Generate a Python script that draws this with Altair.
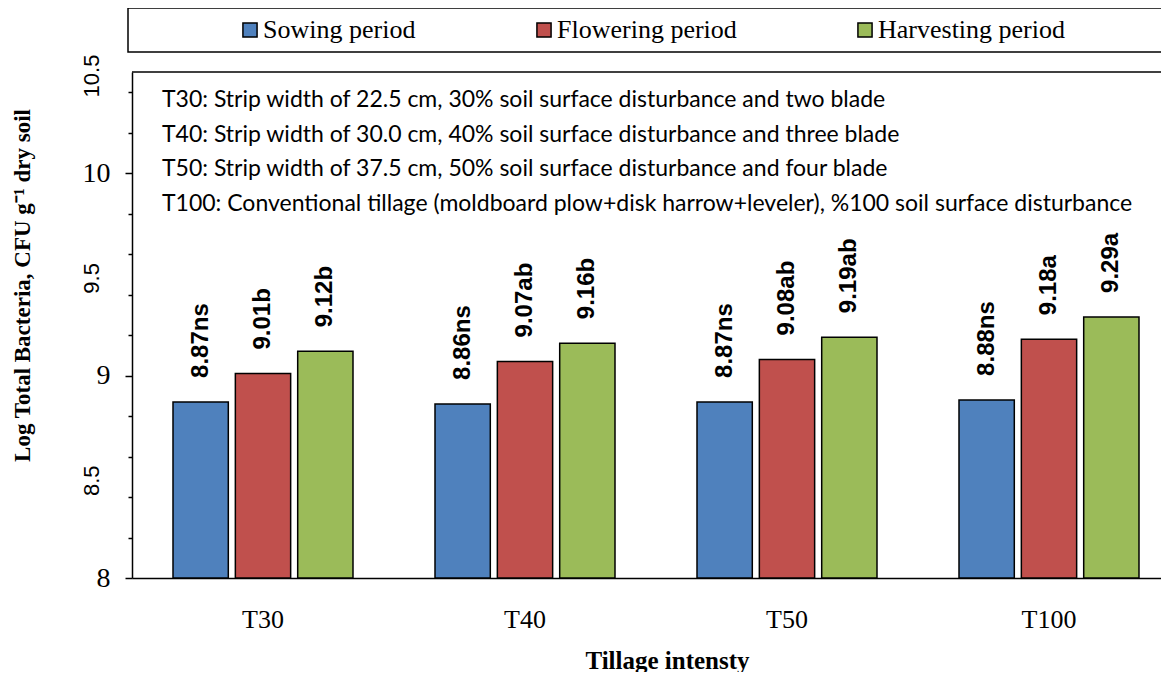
import altair as alt
import pandas as pd

categories = ["T30", "T40", "T50", "T100"]
periods = ["Sowing period", "Flowering period", "Harvesting period"]
sowing = [8.87, 8.86, 8.87, 8.88]
flowering = [9.01, 9.07, 9.08, 9.18]
harvesting = [9.12, 9.16, 9.19, 9.29]
sowing_lbl = ["8.87ns", "8.86ns", "8.87ns", "8.88ns"]
flowering_lbl = ["9.01b", "9.07ab", "9.08ab", "9.18a"]
harvesting_lbl = ["9.12b", "9.16b", "9.19ab", "9.29a"]
colors = ["#4F81BD", "#C0504D", "#9BBB59"]
y_ticks = [8.0, 8.1, 8.2, 8.3, 8.4, 8.5, 8.6, 8.7, 8.8, 8.9, 9.0, 9.1, 9.2, 9.3, 9.4,
           9.5, 9.6, 9.7, 9.8, 9.9, 10.0, 10.1, 10.2, 10.3, 10.4, 10.5]
y_min = 8
half_ticks = [8.5, 9.5, 10.5]
notes = [
    "T30: Strip width of 22.5  cm, 30% soil surface disturbance and two blade",
    "T40: Strip width of 30.0  cm, 40% soil surface disturbance and three blade",
    "T50: Strip width of 37.5  cm, 50% soil surface disturbance and four blade",
    "T100:  Conventional tillage (moldboard plow+disk harrow+leveler), %100 soil surface disturbance",
]

rows = []
for i, c in enumerate(categories):
    for p, vals, lbls in zip(periods, [sowing, flowering, harvesting],
                             [sowing_lbl, flowering_lbl, harvesting_lbl]):
        rows.append({"cat": c, "period": p, "value": vals[i], "label": lbls[i]})
df = pd.DataFrame(rows)

x_enc = alt.X("cat:N", sort=categories,
              scale=alt.Scale(range=[0, 1048], paddingInner=0.313, paddingOuter=0.1565),
              axis=alt.Axis(title="Tillage intensty", labelAngle=0, ticks=False,
                            labelFont="Liberation Serif", labelFontSize=26, labelColor="black",
                            labelPadding=28, labelBaseline="top",
                            domainColor="black", domainWidth=1.5,
                            titleFont="Liberation Serif", titleFontSize=25, titleFontWeight="bold",
                            titleColor="black", titleX=535, titleY=90,
                            titleBaseline="alphabetic", titleAlign="center", titleAnchor="start"))
xo_enc = alt.XOffset("period:N", sort=periods,
                     scale=alt.Scale(paddingInner=0.113, paddingOuter=0))
y_enc = alt.Y("value:Q",
              scale=alt.Scale(domain=[8, 10.5], nice=False, zero=False),
              axis=alt.Axis(values=y_ticks,
                            labelExpr="abs(datum.value - round(datum.value)) < 0.001 ? format(datum.value, '.0f') : ''",
                            labelOverlap=False,
                            tickSize={"condition": {"test": "abs(datum.value*2 - round(datum.value*2)) < 0.001", "value": 7}, "value": 4},
                            tickColor="black", tickWidth=1.5,
                            domainColor="black", domainWidth=1.5, grid=False,
                            labelFont="Liberation Serif", labelFontSize=28, labelColor="black",
                            labelPadding=15,
                            title="Log Total Bacteria,  CFU g\u207b\u00b9 dry soil",
                            titleFont="Liberation Serif", titleFontSize=23, titleFontWeight="bold",
                            titleColor="black", titleAngle=270, titleX=-110, titleY=213,
                            titleBaseline="middle", titleAlign="center", titleAnchor="start"))

color_enc = alt.Color("period:N", sort=periods,
                      scale=alt.Scale(domain=periods, range=colors),
                      legend=alt.Legend(title=None, orient="none", legendX=105, legendY=-55,
                                        direction="horizontal", symbolType="square",
                                        symbolSize=200, symbolStrokeColor="black",
                                        symbolStrokeWidth=1.5, symbolOpacity=1,
                                        labelFont="Liberation Serif", labelFontSize=26,
                                        labelColor="black", columnPadding=115,
                                        labelOffset=0, padding=0, labelLimit=400))

box = alt.Chart(alt.Data(values=[{}])).mark_rect(
    fill="white", stroke="black", strokeWidth=1.5
).encode(x=alt.value(-4), x2=alt.value(1060), y=alt.value(-64), y2=alt.value(-20))

bars = alt.Chart(df).mark_bar(stroke="black", strokeWidth=1.5).encode(
    x=x_enc, xOffset=xo_enc, y=y_enc, y2=alt.datum(y_min), color=color_enc
)

labels = alt.Chart(df).mark_text(
    angle=270, align="left", baseline="middle", dx=24,
    font="Liberation Sans", fontWeight="bold", fontSize=24, color="black"
).encode(x=alt.X("cat:N", sort=categories), xOffset=alt.XOffset("period:N", sort=periods),
         y="value:Q", text="label:N")

top_line = alt.Chart(alt.Data(values=[{"v": 10.5}])).mark_rule(
    color="black", strokeWidth=1.5
).encode(y="v:Q")

half_lbl = alt.Chart(pd.DataFrame({"v": half_ticks})).mark_text(
    angle=270, align="center", baseline="middle", dx=-4,
    font="Liberation Sans", fontSize=22, color="black"
).encode(x=alt.value(-40), y="v:Q", text=alt.Text("v:Q", format=".1f"))

note = alt.Chart(alt.Data(values=[{}])).mark_text(
    align="left", baseline="top", font="Lato", fontSize=23, color="black",
    lineHeight=34.5
).encode(x=alt.value(30), y=alt.value(17), text=alt.value(notes))

chart = alt.layer(box, bars, labels, top_line, half_lbl, note).properties(
    width=1029, height=506,
    autosize=alt.AutoSizeParams(type="none"),
    padding={"left": 124, "top": 64, "right": 0, "bottom": 94},
).configure_view(stroke=None)

chart.save("out.html", embed_options={"renderer": "svg", "actions": False})
